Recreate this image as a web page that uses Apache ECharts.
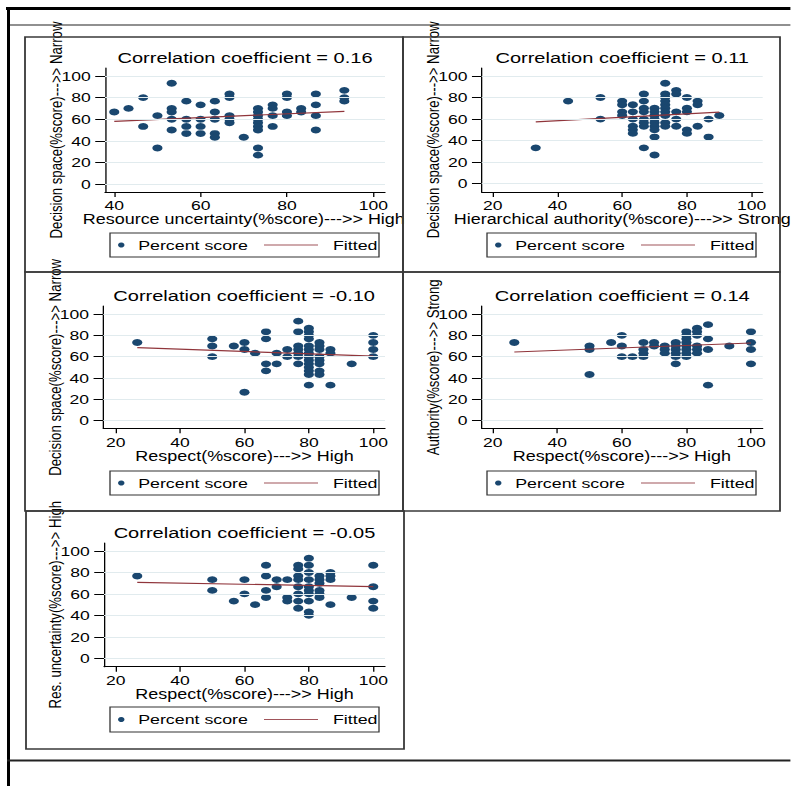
<!DOCTYPE html>
<html><head><meta charset="utf-8">
<script src="https://cdn.jsdelivr.net/npm/echarts@6/dist/echarts.min.js"></script>
<style>
html,body{margin:0;padding:0;background:#fff;overflow:hidden;width:791px;height:786px}
#c{width:608.46px;height:786px;transform:scaleX(1.3);transform-origin:0 0;}
</style></head><body><div id="c"></div>
<script>
// ---------------- data ----------------
const yTicks = [0, 20, 40, 60, 80, 100];
const xRangeResUnc = [40, 100];
const xRangeOther = [20, 100];
const titles = [
  'Correlation coefficient = 0.16',
  'Correlation coefficient = 0.11',
  'Correlation coefficient = -0.10',
  'Correlation coefficient = 0.14',
  'Correlation coefficient = -0.05'
];
const xNames = [
  'Resource uncertainty(%score)--->> High',
  'Hierarchical authority(%score)--->> Strong',
  'Respect(%score)--->> High',
  'Respect(%score)--->> High',
  'Respect(%score)--->> High'
];
const yNames = [
  'Decision space(%score)--->> Narrow',
  'Decision space(%score)--->> Narrow',
  'Decision space(%score)--->> Narrow',
  'Authority(%score)--->> Strong',
  'Res. uncertainty(%score)--->> High'
];
const legendNames = ['Percent score', 'Fitted'];

const ptsResUncDS = [
  [40,66.7],[43.3,70],[46.7,80],[46.7,53.3],[50,63.3],[50,33.3],
  [53.3,93.3],[53.3,70],[53.3,66.7],[53.3,60],[53.3,50],
  [56.7,76.7],[56.7,60],[56.7,53.3],[56.7,46.7],
  [60,73.3],[60,60],[60,53.3],[60,46.7],
  [63.3,76.7],[63.3,66.7],[63.3,60],[63.3,46.7],[63.3,43.3],
  [66.7,83.3],[66.7,80],[66.7,63.3],[66.7,60],[66.7,56.7],
  [70,43.3],
  [73.3,70],[73.3,66.7],[73.3,63.3],[73.3,60],[73.3,56.7],[73.3,53.3],[73.3,50],[73.3,33.3],[73.3,26.7],
  [76.7,73.3],[76.7,70],[76.7,63.3],[76.7,53.3],
  [80,83.3],[80,80],[80,66.7],[80,63.3],
  [83.3,70],[83.3,66.7],
  [86.7,83.3],[86.7,73.3],[86.7,63.3],[86.7,50],
  [93.3,86.7],[93.3,80],[93.3,76.7]
];
const ptsAuthDS = [
  [33.3,33.3],[43.3,76.7],[53.3,80],[53.3,60],
  [60,76.7],[60,73.3],[60,66.7],[60,63.3],
  [63.3,73.3],[63.3,66.7],[63.3,60],[63.3,53.3],[63.3,50],[63.3,46.7],
  [66.7,83.3],[66.7,76.7],[66.7,70],[66.7,66.7],[66.7,60],[66.7,56.7],[66.7,53.3],[66.7,33.3],
  [70,70],[70,66.7],[70,63.3],[70,60],[70,56.7],[70,53.3],[70,50],[70,43.3],[70,26.7],
  [73.3,93.3],[73.3,83.3],[73.3,80],[73.3,76.7],[73.3,73.3],[73.3,70],[73.3,66.7],[73.3,63.3],[73.3,56.7],[73.3,53.3],
  [76.7,86.7],[76.7,83.3],[76.7,66.7],[76.7,60],[76.7,53.3],
  [80,80],[80,70],[80,66.7],[80,50],[80,46.7],
  [83.3,76.7],[83.3,73.3],[83.3,53.3],
  [86.7,60],[86.7,43.3],[90,63.3]
];
const ptsRespDS = [
  [26.7,73.3],[50,76.7],[50,70],[50,60],[56.7,70],
  [60,73.3],[60,66.7],[60,26.7],[63.3,63.3],
  [66.7,83.3],[66.7,76.7],[66.7,53.3],[66.7,46.7],
  [70,63.3],[70,53.3],[73.3,66.7],[73.3,60],
  [76.7,93.3],[76.7,83.3],[76.7,70],[76.7,66.7],[76.7,63.3],[76.7,60],[76.7,53.3],
  [80,86.7],[80,83.3],[80,80],[80,76.7],[80,70],[80,66.7],[80,63.3],[80,60],[80,56.7],[80,53.3],[80,50],[80,46.7],[80,43.3],[80,33.3],
  [83.3,73.3],[83.3,70],[83.3,66.7],[83.3,60],[83.3,56.7],[83.3,53.3],[83.3,46.7],[83.3,43.3],
  [86.7,66.7],[86.7,63.3],[86.7,33.3],[93.3,53.3],
  [100,80],[100,73.3],[100,66.7],[100,60]
];
const ptsRespAuth = [
  [26.7,73.3],[50,70],[50,66.7],[50,43.3],[56.7,73.3],
  [60,80],[60,70],[60,60],[63.3,60],
  [66.7,73.3],[66.7,66.7],[66.7,63.3],[66.7,60],
  [70,73.3],[70,70],[73.3,70],[73.3,66.7],[73.3,63.3],
  [76.7,73.3],[76.7,70],[76.7,66.7],[76.7,63.3],[76.7,60],[76.7,53.3],
  [80,83.3],[80,80],[80,76.7],[80,73.3],[80,70],[80,66.7],[80,63.3],[80,60],
  [83.3,86.7],[83.3,83.3],[83.3,80],[83.3,70],[83.3,66.7],[83.3,63.3],
  [86.7,90],[86.7,76.7],[86.7,66.7],[86.7,33.3],[93.3,70],
  [100,83.3],[100,73.3],[100,66.7],[100,53.3]
];
const ptsRespRU = [
  [26.7,76.7],[50,73.3],[50,63.3],[56.7,53.3],[60,73.3],[60,60],[63.3,50],
  [66.7,86.7],[66.7,76.7],[66.7,63.3],[66.7,56.7],
  [70,73.3],[70,66.7],[73.3,73.3],[73.3,56.7],[73.3,53.3],
  [76.7,86.7],[76.7,83.3],[76.7,76.7],[76.7,73.3],[76.7,66.7],[76.7,60],[76.7,53.3],[76.7,46.7],
  [80,93.3],[80,86.7],[80,80],[80,73.3],[80,66.7],[80,63.3],[80,60],[80,53.3],[80,43.3],[80,40],
  [83.3,76.7],[83.3,73.3],[83.3,70],[83.3,63.3],[83.3,60],[83.3,56.7],
  [86.7,80],[86.7,76.7],[86.7,73.3],[86.7,50],[93.3,56.7],
  [100,86.7],[100,66.7],[100,53.3],[100,46.7]
];
const fitResUncDS = [[40,58.0],[93.3,67.3]];
const fitAuthDS   = [[33.3,57.4],[90,66.4]];
const fitRespDS   = [[26.7,68.4],[100,60.6]];
const fitRespAuth = [[26.7,64.4],[100,72.8]];
const fitRespRU   = [[26.7,70.8],[100,66.8]];

const points = [ptsResUncDS, ptsAuthDS, ptsRespDS, ptsRespAuth, ptsRespRU];
const fits = [fitResUncDS, fitAuthDS, fitRespDS, fitRespAuth, fitRespRU];
const xRanges = [xRangeResUnc, xRangeOther, xRangeOther, xRangeOther, xRangeOther];

// ---------------- layout (reference pixel coords) ----------------
const S = 1.3;
const FONT = '"Liberation Sans", Arial, Helvetica, sans-serif';
const layout = [
  {px:[114.3,373.3], py0:184,   py100:76,  axX:105,   axY:192,   right:385,   top:68,  ty:58,  lg:[110,233,379,257], fr:[25,37,403,272]},
  {px:[492.7,751.7], py0:183.7, py100:76,  axX:481.7, axY:192,   right:762.7, top:68,  ty:58,  lg:[487,233,756,257], fr:[403,37,780,272]},
  {px:[115.7,373.3], py0:420.7, py100:314, axX:103.3, axY:428.3, right:385,   top:306, ty:296, lg:[110,471,379,495], fr:[25,272,403,511]},
  {px:[492.7,751],   py0:420.7, py100:314, axX:481.7, axY:428.3, right:762.7, top:306, ty:296, lg:[487,471,756,495], fr:[403,272,780,511]},
  {px:[115.7,373.3], py0:658.3, py100:551, axX:104,   axY:666.7, right:385,   top:543, ty:533, lg:[110,707,379,732], fr:[26,511,404,749]}
];

const grids=[], xAxes=[], yAxes=[], series=[], legends=[], gfx=[];
const txt = {color:'#000', fontFamily:FONT, fontSize:13.5, lineHeight:13};

layout.forEach((p,i)=>{
  const dx = xRanges[i];
  const kx = (p.px[1]-p.px[0])/(dx[1]-dx[0]);
  const ky = (p.py0-p.py100)/100;
  const a = 2*i, b = 2*i+1;
  grids.push({left:p.axX/S, top:p.top, width:(p.right-p.axX)/S, height:p.axY-p.top, outerBoundsMode:'none', containLabel:false});
  grids.push({left:p.px[0]/S, top:p.py100, width:(p.px[1]-p.px[0])/S, height:p.py0-p.py100, outerBoundsMode:'none', containLabel:false});
  xAxes.push({type:'value', gridIndex:a, min:dx[0]-(p.px[0]-p.axX)/kx, max:dx[1]+(p.right-p.px[1])/kx,
    axisLine:{show:true,onZero:false,lineStyle:{color:'#000',width:1}}, axisTick:{show:false}, axisLabel:{show:false}, splitLine:{show:false}});
  yAxes.push({type:'value', gridIndex:a, min:-(p.axY-p.py0)/ky, max:100+(p.py100-p.top)/ky,
    axisLine:{show:true,onZero:false,lineStyle:{color:'#000',width:1}}, axisTick:{show:false}, axisLabel:{show:false}, splitLine:{show:false}});
  xAxes.push({type:'value', gridIndex:b, min:dx[0], max:dx[1], interval:20, offset:p.axY-p.py0,
    axisLine:{show:false,onZero:false}, axisTick:{show:true,length:5,lineStyle:{color:'#000',width:1}},
    axisLabel:Object.assign({margin:7}, txt), splitLine:{show:false},
    name:xNames[i], nameLocation:'middle', nameGap:21, nameMoveOverlap:false, nameTextStyle:Object.assign({}, txt, {fontSize:13.8})});
  yAxes.push({type:'value', gridIndex:b, min:0, max:100, interval:20, offset:(p.px[0]-p.axX)/S,
    axisLine:{show:false,onZero:false}, axisTick:{show:true,length:7.5,lineStyle:{color:'#000',width:1}},
    axisLabel:Object.assign({margin:11}, txt), splitLine:{show:false},
    name:yNames[i], nameLocation:'middle', nameGap:31, nameRotate:90, nameMoveOverlap:false, nameTextStyle:Object.assign({}, txt, {fontSize:13.2})});
  series.push({type:'scatter', name:'grid'+i, xAxisIndex:a, yAxisIndex:a, data:[], z:1, silent:true,
    markLine:{silent:true, symbol:['none','none'], label:{show:false}, animation:false,
      lineStyle:{color:'#e1ebee', width:1, type:'solid'}, data:yTicks.map(v=>({yAxis:v}))}});
  series.push({type:'scatter', name:legendNames[0], xAxisIndex:b, yAxisIndex:b, data:points[i],
    symbol:'circle', symbolSize:[7.8,6.8], itemStyle:{color:'#1a476f', opacity:1}, z:3});
  series.push({type:'line', name:legendNames[1], xAxisIndex:b, yAxisIndex:b, data:fits[i],
    symbol:'none', lineStyle:{color:'#90353b', width:1.2}, z:4});

  const lgy = (p.lg[1]+p.lg[3])/2;
  legends.push({data:[{name:legendNames[0], icon:'circle'}], left:(p.lg[0]+8)/S, top:lgy-7, padding:0,
    itemWidth:6, itemHeight:5, selectedMode:false, textStyle:Object.assign({}, txt, {fontSize:13.7, lineHeight:14, padding:[0,0,0,5]})});
  legends.push({data:[{name:legendNames[1], icon:'rect', itemStyle:{color:'#a0545a'}}], left:(p.lg[0]+154)/S, top:lgy-7, padding:0,
    itemWidth:54/S, itemHeight:1.2, selectedMode:false, textStyle:Object.assign({}, txt, {fontSize:13.7, lineHeight:14, padding:[0,0,0,6.5]})});

  gfx.push({type:'rect', shape:{x:p.lg[0]/S, y:p.lg[1], width:(p.lg[2]-p.lg[0])/S, height:p.lg[3]-p.lg[1]},
    style:{fill:'none', stroke:'#333', lineWidth:1}, z:50, silent:true});
  gfx.push({type:'rect', shape:{x:p.fr[0]/S, y:p.fr[1], width:(p.fr[2]-p.fr[0])/S, height:p.fr[3]-p.fr[1]},
    style:{fill:'none', stroke:'#3a3a3a', lineWidth:1.4}, z:50, silent:true});
  gfx.push({type:'text', x:((p.axX+p.right)/2)/S, y:p.ty, z:50, silent:true,
    style:{text:titles[i], fill:'#000', fontFamily:FONT, fontSize:15.4, align:'center', verticalAlign:'middle'}});
});

// outer figure lines
gfx.push({type:'line', shape:{x1:6/S, y1:8.5, x2:791/S, y2:8.5}, style:{stroke:'#000', lineWidth:3}, z:60, silent:true});
gfx.push({type:'line', shape:{x1:8.5/S, y1:7, x2:8.5/S, y2:786}, style:{stroke:'#000', lineWidth:3/S}, z:60, silent:true});
gfx.push({type:'line', shape:{x1:10/S, y1:25, x2:791/S, y2:25}, style:{stroke:'#222', lineWidth:1}, z:60, silent:true});
gfx.push({type:'line', shape:{x1:7/S, y1:760.5, x2:791/S, y2:760.5}, style:{stroke:'#222', lineWidth:2}, z:60, silent:true});

const chart = echarts.init(document.getElementById('c'), null, {renderer:'svg'});
chart.setOption({
  animation:false,
  backgroundColor:'#fff',
  grid:grids, xAxis:xAxes, yAxis:yAxes, series:series, legend:legends,
  graphic:{elements:gfx}
});
</script></body></html>
